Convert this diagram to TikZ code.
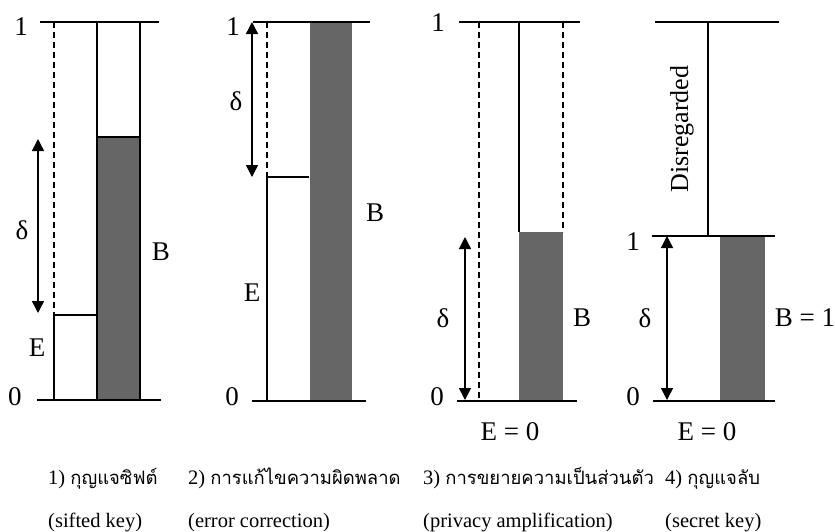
\documentclass[tikz,border=0pt]{standalone}
\usepackage{fontspec}
\setmainfont{Liberation Serif}
\newfontfamily\thaifont[Script=Thai,Scale=0.9]{Loma}
\usetikzlibrary{arrows.meta}
\definecolor{barfill}{RGB}{102,102,102}
\begin{document}
\begin{tikzpicture}[x=1pt,y=-1pt,
  lbl/.style={font=\fontsize{27}{29}\selectfont, inner sep=0pt},
  captxt/.style={font=\fontsize{20.5}{22}\selectfont, anchor=base west, inner sep=0pt},
  dim/.style={line width=1.4pt, {Triangle[width=12pt,length=12pt]}-{Triangle[width=12pt,length=12pt]}},
  ln/.style={line width=1.3pt},
  dsh/.style={line width=1.3pt, dash pattern=on 6pt off 4pt}]
\useasboundingbox (0,0) rectangle (835,531);

% ---------- panel 1 ----------
\draw[ln] (40,22) -- (159,22);
\draw[dsh] (54,22) -- (54,315);
\draw[ln] (54,315) rectangle (97,400);
\fill[barfill] (97,137) rectangle (140,400);
\draw[ln] (97,22) rectangle (140,400);
\draw[ln] (97,137) -- (140,137);
\draw[line width=2pt] (37,400) -- (161,400);
\coordinate (a1t) at (38,139);
\coordinate (a1b) at (38,313);
\draw[dim] (a1t) -- (a1b);
\node[lbl] (p1one) at (21,27) {1};
\node[lbl] (p1zero) at (15,397) {0};
\node[lbl] (p1d) at (22,230) {δ};
\node[lbl] (p1E) at (37,348) {E};
\node[lbl] (p1B) at (161,252) {B};

% ---------- panel 2 ----------
\fill[barfill] (310,22) rectangle (352,401);
\draw[ln] (253,22) -- (370,22);
\draw[ln] (252,401) -- (366,401);
\draw[dsh] (267,22) -- (267,177);
\draw[ln] (267,177) -- (267,401);
\draw[ln] (267,177) -- (309,177);
\coordinate (a2t) at (252,22);
\coordinate (a2b) at (252,177);
\draw[dim] (a2t) -- (a2b);
\node[lbl] (p2one) at (233,27) {1};
\node[lbl] (p2zero) at (232,397) {0};
\node[lbl] (p2d) at (236,101) {δ};
\node[lbl] (p2E) at (252,293) {E};
\node[lbl] (p2B) at (375,213) {B};

% ---------- panel 3 ----------
\fill[barfill] (519,232) rectangle (563,401);
\draw[ln] (459,22) -- (580,22);
\draw[ln] (457,401) -- (577,401);
\draw[dsh] (479,22) -- (479,401);
\draw[ln] (519,22) -- (519,232);
\draw[dsh] (563,22) -- (563,232);
\coordinate (a3t) at (465,237);
\coordinate (a3b) at (465,400);
\draw[dim] (a3t) -- (a3b);
\node[lbl] (p3one) at (438,23) {1};
\node[lbl] (p3zero) at (437,397) {0};
\node[lbl] (p3d) at (443,318) {δ};
\node[lbl] (p3B) at (582,318) {B};
\node[lbl] (p3E) at (510,432) {E = 0};

% ---------- panel 4 ----------
\fill[barfill] (720,236) rectangle (765,401);
\draw[ln] (655,22) -- (779,22);
\draw[ln] (708,22) -- (708,236);
\draw[ln] (652,236) -- (775,236);
\draw[ln] (653,401) -- (775,401);
\coordinate (a4t) at (667,236);
\coordinate (a4b) at (667,400);
\draw[dim] (a4t) -- (a4b);
\node[lbl, rotate=90, font=\fontsize{26}{28}\selectfont] (p4dis) at (682,129) {Disregarded};
\node[lbl] (p4one) at (633,242) {1};
\node[lbl] (p4zero) at (633,397) {0};
\node[lbl] (p4d) at (645,318) {δ};
\node[lbl] (p4B) at (805,318) {B = 1};
\node[lbl] (p4E) at (707,432) {E = 0};

% ---------- captions ----------
\node[captxt] (c1a) at (48,484) {1) {\thaifont กุญแจซิฟต์}};
\node[captxt] (c2a) at (188,484) {2) {\thaifont การแก้ไขความผิดพลาด}};
\node[captxt] (c3a) at (423,484) {3) {\thaifont การขยายความเป็นส่วนตัว}};
\node[captxt] (c4a) at (665,484) {4) {\thaifont กุญแจลับ}};
\node[captxt] (c1b) at (48,527) {(sifted key)};
\node[captxt] (c2b) at (188,527) {(error correction)};
\node[captxt] (c3b) at (423,527) {(privacy amplification)};
\node[captxt] (c4b) at (665,527) {(secret key)};
\end{tikzpicture}
\end{document}
